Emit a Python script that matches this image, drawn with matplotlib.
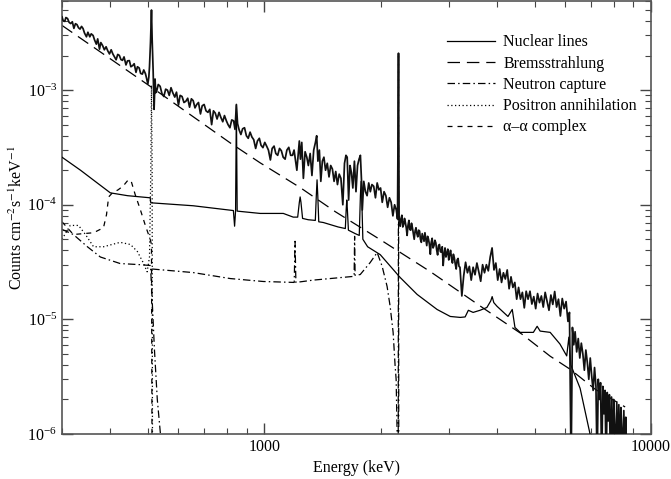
import numpy as np
import matplotlib
matplotlib.use('Agg')
import matplotlib.pyplot as plt
from matplotlib.ticker import FuncFormatter, NullFormatter

plt.rcParams['font.family'] = ['Liberation Serif', 'DejaVu Serif']
plt.rcParams['mathtext.fontset'] = 'stix'

obs = np.array([
    [300, 4.36e-3], [302, 4.05e-3], [305, 3.98e-3], [307, 4.3e-3], [310, 4.22e-3],
    [313, 3.9e-3], [316, 3.81e-3], [319, 3.95e-3], [322, 3.46e-3], [325, 3.8e-3],
    [328, 3.73e-3], [331, 3.5e-3], [334, 3.41e-3], [337, 3.6e-3], [340, 3.45e-3],
    [343, 3.15e-3], [347, 2.92e-3], [350, 3.2e-3], [354, 2.92e-3], [357, 3.1e-3],
    [361, 3.0e-3], [364, 2.75e-3], [368, 2.52e-3], [371, 2.8e-3], [375, 2.28e-3],
    [378, 2.6e-3], [382, 2.45e-3], [386, 2.25e-3], [390, 2.39e-3], [394, 2.2e-3],
    [398, 2.07e-3], [402, 2.25e-3], [406, 2.07e-3], [410, 1.95e-3], [414, 1.84e-3],
    [418, 2.05e-3], [422, 2.01e-3], [426, 1.85e-3], [430, 1.82e-3], [434, 1.95e-3],
    [439, 1.66e-3], [443, 1.8e-3], [448, 1.81e-3], [452, 1.6e-3], [457, 1.64e-3],
    [461, 1.7e-3], [466, 1.43e-3], [470, 1.6e-3], [475, 1.56e-3], [479, 1.4e-3],
    [484, 1.38e-3], [488, 1.5e-3], [493, 1.39e-3], [496, 1.28e-3], [500, 1.13e-3],
    [503, 1.3e-3], [505, 1.6e-3], [508, 2.6e-3], [511, 5.0e-3], [513, 2.8e-3],
    [516, 1.5e-3], [519, 6.8e-4], [522, 1.25e-3], [524, 9.5e-4], [527, 9.8e-4],
    [532, 1.12e-3], [538, 1.08e-3], [544, 9.3e-4], [550, 8.8e-4], [556, 1.02e-3],
    [562, 1.0e-3], [568, 9.0e-4], [574, 1.05e-3], [580, 9.5e-4], [587, 8.7e-4],
    [593, 9.6e-4], [600, 7.4e-4], [606, 9.0e-4], [613, 8.8e-4], [620, 7.8e-4],
    [627, 8.0e-4], [634, 8.5e-4], [641, 7.1e-4], [648, 8.4e-4], [655, 8.1e-4],
    [662, 7.0e-4], [669, 7.5e-4], [676, 7.8e-4], [684, 6.2e-4], [691, 7.3e-4],
    [699, 7.5e-4], [707, 6.6e-4], [715, 6.4e-4], [723, 6.8e-4], [731, 5.0e-4],
    [739, 6.6e-4], [747, 6.3e-4], [755, 5.6e-4], [764, 6.4e-4], [772, 5.8e-4],
    [781, 5.3e-4], [789, 6.0e-4], [798, 5.4e-4], [806, 5.0e-4], [815, 4.7e-4],
    [824, 5.5e-4], [833, 5.4e-4], [840, 4.55e-4], [847, 7.5e-4], [853, 5.1e-4],
    [861, 4.5e-4], [870, 4.1e-4], [879, 4.6e-4], [889, 4.7e-4], [899, 4.0e-4],
    [909, 3.8e-4], [919, 4.3e-4], [929, 3.9e-4], [939, 3.7e-4], [950, 3.1e-4],
    [960, 3.6e-4], [971, 3.8e-4], [981, 3.3e-4], [992, 3.15e-4], [1003, 3.5e-4],
    [1014, 3.25e-4], [1025, 3.0e-4], [1037, 2.46e-4], [1048, 3.1e-4], [1060, 3.25e-4],
    [1071, 2.8e-4], [1083, 2.7e-4], [1095, 3.1e-4], [1107, 2.96e-4], [1119, 2.6e-4],
    [1132, 2.5e-4], [1144, 3.0e-4], [1157, 3.17e-4], [1170, 2.7e-4], [1183, 2.7e-4],
    [1194, 3.0e-4], [1205, 2.4e-4], [1214, 2.0e-4], [1225, 2.9e-4], [1232, 3.6e-4],
    [1240, 2.5e-4], [1250, 3.5e-4], [1262, 1.7e-4], [1275, 2.9e-4], [1288, 2.6e-4],
    [1300, 2.2e-4], [1314, 2.8e-4], [1328, 1.8e-4], [1342, 3.0e-4], [1356, 3.5e-4],
    [1366, 4.0e-4], [1376, 2.4e-4], [1388, 3.0e-4], [1400, 1.6e-4], [1413, 2.4e-4],
    [1426, 2.6e-4], [1440, 2.0e-4], [1455, 2.3e-4], [1470, 1.75e-4], [1485, 2.2e-4],
    [1500, 2.05e-4], [1515, 1.6e-4], [1530, 1.95e-4], [1546, 1.5e-4], [1562, 1.85e-4],
    [1578, 1.7e-4], [1596, 1.0e-4], [1612, 2.3e-4], [1626, 2.7e-4], [1638, 2.6e-4],
    [1652, 1.1e-4], [1666, 2.2e-4], [1680, 1.9e-4], [1694, 1.4e-4], [1710, 2.4e-4],
    [1726, 1.3e-4], [1742, 2.2e-4], [1758, 2.5e-4], [1772, 2.7e-4], [1784, 1.6e-4],
    [1792, 9.0e-5], [1808, 1.6e-4], [1826, 1.3e-4], [1844, 1.2e-4], [1862, 1.55e-4],
    [1880, 1.3e-4], [1898, 1.5e-4], [1918, 1.45e-4], [1938, 1.15e-4], [1958, 1.55e-4],
    [1978, 1.35e-4], [1998, 1.4e-4], [2018, 1.05e-4], [2040, 1.3e-4], [2062, 1.2e-4],
    [2084, 9.5e-5], [2106, 1.15e-4], [2128, 1.05e-4], [2150, 8.0e-5], [2172, 1.0e-4],
    [2194, 9.0e-5], [2210, 7.5e-5], [2223, 2.1e-3], [2231, 8.0e-5], [2245, 6.5e-5],
    [2256, 7.4e-5], [2268, 8.1e-5], [2280, 6.4e-5], [2292, 6.7e-5], [2304, 7.6e-5],
    [2316, 7.0e-5], [2328, 6.3e-5], [2340, 5.4e-5], [2352, 6.6e-5], [2365, 7.3e-5],
    [2377, 6.1e-5], [2390, 6.0e-5], [2402, 6.9e-5], [2415, 6.3e-5], [2428, 5.6e-5],
    [2441, 5.0e-5], [2454, 5.9e-5], [2467, 6.3e-5], [2480, 5.6e-5], [2493, 5.25e-5],
    [2506, 6.0e-5], [2520, 5.9e-5], [2533, 5.0e-5], [2547, 4.7e-5], [2560, 5.6e-5],
    [2574, 5.2e-5], [2588, 4.8e-5], [2602, 5.7e-5], [2616, 5.0e-5], [2630, 4.4e-5],
    [2644, 5.3e-5], [2658, 5.0e-5], [2672, 4.5e-5], [2687, 3.7e-5], [2701, 4.7e-5],
    [2716, 5.1e-5], [2731, 4.2e-5], [2746, 4.4e-5], [2761, 4.9e-5], [2776, 4.65e-5],
    [2791, 4.0e-5], [2806, 3.65e-5], [2821, 4.4e-5], [2837, 4.5e-5], [2852, 3.9e-5],
    [2868, 3.85e-5], [2884, 4.3e-5], [2900, 2.95e-5], [2916, 3.7e-5], [2932, 4.2e-5],
    [2948, 3.5e-5], [2965, 3.78e-5], [2981, 4.1e-5], [2998, 3.3e-5], [3014, 3.7e-5],
    [3031, 4.0e-5], [3048, 3.4e-5], [3065, 3.1e-5], [3082, 3.7e-5], [3099, 3.45e-5],
    [3116, 3.05e-5], [3134, 2.75e-5], [3151, 3.3e-5], [3169, 3.4e-5], [3187, 2.9e-5],
    [3205, 2.85e-5], [3241, 1.6e-5], [3277, 2.4e-5],
    [3314, 3.15e-5], [3351, 2.55e-5], [3389, 2.9e-5], [3427, 2.2e-5], [3466, 2.85e-5],
    [3505, 2.45e-5], [3545, 3.1e-5], [3585, 2.6e-5], [3626, 2.15e-5], [3667, 3.0e-5],
    [3709, 2.55e-5], [3751, 3.0e-5], [3794, 2.65e-5], [3837, 3.5e-5], [3880, 4.2e-5],
    [3924, 2.7e-5], [3968, 3.1e-5], [4013, 2.2e-5], [4059, 2.75e-5], [4105, 2.1e-5],
    [4151, 2.55e-5], [4198, 2.25e-5], [4246, 2.7e-5], [4294, 1.85e-5], [4343, 2.35e-5],
    [4392, 1.9e-5], [4442, 2.1e-5], [4492, 1.5e-5], [4543, 1.9e-5], [4595, 1.5e-5],
    [4647, 1.72e-5], [4700, 1.26e-5], [4753, 1.76e-5], [4807, 1.5e-5], [4862, 1.76e-5],
    [4917, 1.36e-5], [4973, 1.58e-5], [5030, 1.24e-5], [5087, 1.68e-5], [5145, 1.4e-5],
    [5203, 1.6e-5], [5262, 1.28e-5], [5322, 1.72e-5], [5383, 1.44e-5], [5444, 1.2e-5],
    [5506, 1.63e-5], [5569, 1.35e-5], [5632, 1.75e-5], [5696, 1.28e-5], [5761, 1.5e-5],
    [5826, 1.07e-5], [5892, 1.52e-5], [5959, 1.24e-5], [6027, 1.43e-5], [6095, 9.6e-6],
    [6150, 1.15e-5], [6210, 5e-7], [6260, 8.5e-6], [6310, 6.0e-6], [6360, 7.8e-6],
    [6420, 5.2e-6], [6480, 6.8e-6], [6540, 4.6e-6], [6600, 6.2e-6], [6660, 5.0e-6],
    [6720, 3.6e-6], [6780, 5.4e-6], [6840, 4.2e-6], [6900, 3.0e-6], [6960, 4.6e-6],
    [7020, 3.2e-6], [7080, 2.4e-6], [7140, 3.8e-6], [7200, 2.6e-6], [7250, 5e-7],
    [7300, 3.0e-6], [7350, 2.0e-6], [7400, 2.8e-6], [7450, 5e-7], [7500, 2.6e-6],
    [7550, 1.5e-6], [7600, 2.4e-6], [7650, 5e-7], [7700, 2.3e-6], [7750, 1.3e-6],
    [7800, 2.2e-6], [7850, 5e-7], [7900, 2.1e-6], [7950, 5e-7], [8000, 2.0e-6],
    [8050, 1.2e-6], [8100, 5e-7], [8150, 1.9e-6], [8200, 5e-7], [8250, 1.8e-6],
    [8300, 5e-7], [8350, 1.7e-6], [8400, 1.1e-6], [8450, 5e-7], [8500, 1.6e-6],
    [8550, 5e-7], [8600, 1.4e-6], [8620, 5e-7],
])

nuclear = np.array([
    [300, 2.6e-4], [335, 2.0e-4], [370, 1.55e-4], [400, 1.27e-4], [443, 1.2e-4],
    [507, 1.15e-4], [509, 1.04e-4], [655, 9.8e-5], [832, 8.9e-5], [838, 6.5e-5],
    [843, 8.9e-5], [847, 7.4e-4], [851, 8.8e-5], [976, 8.4e-5], [1120, 8.4e-5],
    [1188, 7.8e-5], [1220, 7.8e-5], [1232, 1.05e-4], [1238, 1.17e-4], [1244, 1.05e-4],
    [1256, 7.6e-5], [1299, 7.4e-5], [1355, 7.3e-5], [1363, 1.2e-4], [1369, 1.65e-4],
    [1375, 1.2e-4], [1383, 7.1e-5], [1421, 7.0e-5], [1552, 6.4e-5], [1620, 6.2e-5],
    [1628, 9.0e-5], [1634, 1.1e-4], [1640, 9.0e-5], [1650, 6.0e-5], [1718, 5.6e-5],
    [1760, 5.4e-5], [1772, 1.2e-4], [1779, 1.6e-4], [1786, 1.2e-4], [1798, 5.0e-5],
    [1850, 4.3e-5], [1994, 3.67e-5], [2245, 2.32e-5], [2484, 1.65e-5], [2797, 1.22e-5],
    [3025, 1.06e-5], [3210, 1.04e-5], [3305, 1.05e-5], [3369, 1.2e-5], [3466, 1.15e-5],
    [3612, 1.2e-5], [3762, 1.27e-5], [3850, 1.45e-5], [3882, 1.58e-5], [3920, 1.4e-5],
    [3996, 1.3e-5], [4265, 1.06e-5], [4375, 1.22e-5], [4446, 8.5e-6], [4585, 7.7e-6],
    [4961, 7.7e-6], [5074, 8.7e-6], [5165, 7.9e-6], [5483, 7.7e-6], [5810, 6.1e-6],
    [6050, 4.8e-6], [6129, 7.0e-6], [6200, 4.0e-6], [6553, 2.5e-6], [6951, 1.0e-6],
    [7100, 6e-7],
])

brems = np.array([
    [300, 3.67e-3], [511, 1.06e-3], [817, 3.46e-4], [976, 2.32e-4], [1239, 1.41e-4],
    [1526, 8.7e-5], [1994, 4.96e-5], [2686, 2.61e-5], [3725, 1.22e-5], [4642, 7.4e-6],
    [5483, 4.77e-6], [6175, 3.67e-6], [7164, 2.46e-6], [8566, 1.72e-6],
])

# NaN splits the curve where the drawn model doubles back at 511 keV
neutron = np.array([
    [300, 6.1e-5], [321, 5.5e-5], [349, 4.3e-5], [377, 3.5e-5], [424, 3.07e-5],
    [478, 3.0e-5], [508, 2.95e-5], [513, 1.5e-5], [520, 5.5e-6], [529, 2.0e-6],
    [539, 1.0e-6], [545, 5e-7], [np.nan, np.nan],
    [513, 2.75e-5], [655, 2.56e-5], [817, 2.27e-5], [994, 2.14e-5], [1195, 2.1e-5],
    [1201, 4.8e-5], [1207, 2.1e-5], [1338, 2.2e-5], [1698, 2.37e-5], [1707, 2.4e-5],
    [1712, 5.3e-5], [1717, 2.42e-5], [1770, 2.46e-5], [1878, 3.13e-5], [1958, 3.83e-5],
    [2017, 2.9e-5], [2077, 1.94e-5], [2115, 1.3e-5], [2153, 7.7e-6], [2179, 3.9e-6],
    [2192, 3.0e-6], [2205, 1.0e-6], [2212, 3e-7], [2219, 3e-7], [2223, 2.1e-3],
    [2227, 3e-7],
])

positron = np.array([
    [300, 5.0e-5], [315, 6.6e-5], [331, 6.6e-5], [345, 5.5e-5], [362, 4.3e-5],
    [384, 4.3e-5], [424, 4.7e-5], [451, 4.5e-5], [470, 3.9e-5], [487, 3.1e-5],
    [498, 2.6e-5], [505, 3.5e-5], [509, 2.0e-4], [511, 1.1e-3], [513, 2.0e-4],
    [514, 1.0e-6], [515, 3e-7],
])

alpha = np.array([
    [300, 7.1e-5], [321, 5.5e-5], [362, 5.7e-5], [384, 6.3e-5], [391, 8.2e-5],
    [396, 1.17e-4], [405, 1.27e-4], [419, 1.35e-4], [432, 1.46e-4], [445, 1.65e-4],
    [453, 1.6e-4], [464, 1.22e-4], [478, 9.1e-5], [492, 6.7e-5], [507, 5.0e-5],
    [511, 4.5e-5], [513, 3e-7],
])

legend_labels = ['Nuclear lines', 'Bremsstrahlung', 'Neutron capture',
                 'Positron annihilation', '\u03b1\u2013\u03b1 complex']

fig = plt.figure(figsize=(6.71, 4.79), dpi=100)
ax = fig.add_axes([0.0924, 0.094, 0.878, 0.904])

ax.plot(obs[:, 0], obs[:, 1], color='#111111', lw=1.25, zorder=5)
l1, = ax.plot(nuclear[:, 0], nuclear[:, 1], color='black', lw=0.9, zorder=4)
l2, = ax.plot(brems[:, 0], brems[:, 1], color='black', lw=0.9, dashes=(10, 5.5))
l3, = ax.plot(neutron[:, 0], neutron[:, 1], color='black', lw=0.9,
              dashes=(6, 2.5, 1.2, 2.5))
l4, = ax.plot(positron[:, 0], positron[:, 1], color='black', lw=0.9, dashes=(1, 2))
l5, = ax.plot(alpha[:, 0], alpha[:, 1], color='black', lw=0.9, dashes=(4, 4))

ax.set_xscale('log')
ax.set_yscale('log')
ax.set_xlim(300, 10000)
ax.set_ylim(1e-6, 6e-3)
ax.xaxis.set_major_formatter(FuncFormatter(lambda v, p: '%d' % round(v)))
ax.xaxis.set_minor_formatter(NullFormatter())

ax.tick_params(which='both', direction='in', top=True, right=True,
               labelsize=11.5, color='#444444')
ax.tick_params(which='major', length=8, width=1)
ax.tick_params(which='minor', length=4.5, width=0.8)
for s in ax.spines.values():
    s.set_color('#555555')
    s.set_linewidth(1.2)

ax.set_xlabel('Energy (keV)', fontsize=11.5)
ax.set_ylabel('Counts cm$^{-2}$s$^{-1}$keV$^{-1}$', fontsize=11.5, labelpad=1)

ax.legend([l1, l2, l3, l4, l5], legend_labels, loc='upper left',
          bbox_to_anchor=(0.654, 0.923), frameon=False, fontsize=11.5,
          handlelength=3.0, handletextpad=0.5, labelspacing=0.33,
          borderpad=0, borderaxespad=0)

fig.savefig('out.png', dpi=100)
